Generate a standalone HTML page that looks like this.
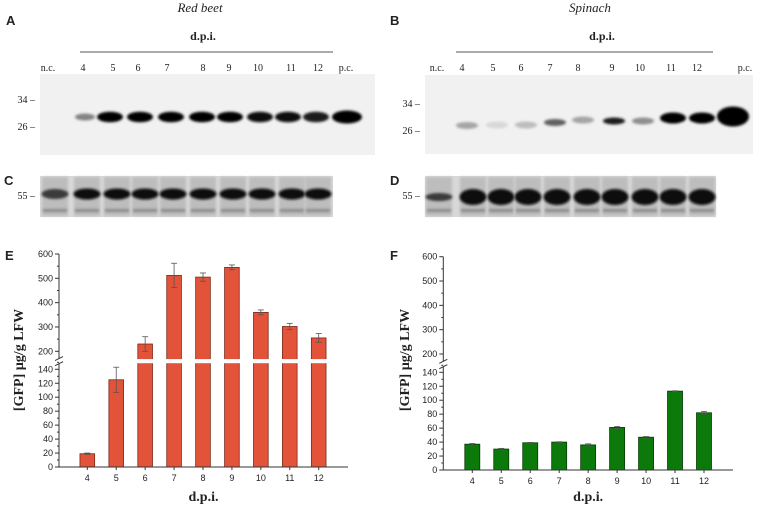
<!DOCTYPE html>
<html><head><meta charset="utf-8"><style>
body{margin:0;background:#fff;}
svg{display:block;font-family:"Liberation Sans",sans-serif;}
.serif{font-family:"Liberation Serif",serif;}
</style></head><body>
<svg id="fig" width="760" height="505" viewBox="0 0 760 505">
<defs>
<filter id="blur1" x="-50%" y="-100%" width="200%" height="300%"><feGaussianBlur stdDeviation="1.3"/></filter>
</defs>
<g id="blots"></g>
<g id="chartE"></g>
<g id="chartF"></g>
</svg>
<script>
// ----- chart data -----
const categories = ["4","5","6","7","8","9","10","11","12"];
const redBeetValues = [19,125,230,512,505,545,360,302,255];
const redBeetErrors = [1,18,30,50,17,10,10,13,18];
const spinachValues = [37,30,39,40,36,61,47,113,82];
const spinachErrors = [1,1,0.5,0.5,1.5,1.5,1,0.5,2];
const lowerTicks = [0,20,40,60,80,100,120,140];
const upperTicks = [200,300,400,500,600];
// blot lane data
const laneLabelsA = ["n.c.","4","5","6","7","8","9","10","11","12","p.c."];
const bandIntensityA = [0,0.45,1,1,1,1,1,0.95,0.95,0.9,1];
const laneLabelsB = ["n.c.","4","5","6","7","8","9","10","11","12","p.c."];
const bandIntensityB = [0,0.3,0.08,0.2,0.6,0.3,0.9,0.4,1,1,1];

const NS="http://www.w3.org/2000/svg";
function mk(tag,attrs,parent,text){const e=document.createElementNS(NS,tag);for(const k in attrs)e.setAttribute(k,attrs[k]);if(text!==undefined)e.textContent=text;parent.appendChild(e);return e;}

// ---------- blots ----------
const B=document.getElementById('blots');
function txt(x,y,s,opts,name){const t=mk('text',Object.assign({x:x,y:y,'font-size':11,fill:'#222'},opts||{}),B,s);return t;}
txt(6,25,"A",{'font-weight':'bold','font-size':13},'panel-a-letter');
txt(390,25,"B",{'font-weight':'bold','font-size':13},'panel-b-letter');
txt(200,12,"Red beet",{'font-style':'italic','class':'serif','text-anchor':'middle','font-size':13},'red-beet-title');
txt(590,12,"Spinach",{'font-style':'italic','class':'serif','text-anchor':'middle','font-size':13},'spinach-title');
txt(203,40,"d.p.i.",{'font-weight':'bold','class':'serif','text-anchor':'middle','font-size':12},'dpi-label-a');
txt(602,40,"d.p.i.",{'font-weight':'bold','class':'serif','text-anchor':'middle','font-size':12},'dpi-label-b');
let l=mk('line',{x1:80,y1:52,x2:333,y2:52,stroke:'#777','stroke-width':1.3},B);
l=mk('line',{x1:456,y1:52,x2:713,y2:52,stroke:'#777','stroke-width':1.3},B);
const labelXA=[48,83,113,138,167,203,229,258,291,318,346];
const labelXB=[437,462,493,521,550,578,612,640,671,697,745];
laneLabelsA.forEach((s,i)=>txt(labelXA[i],71,s,{'class':'serif','text-anchor':'middle','font-size':10},'lane-label-a'));
laneLabelsB.forEach((s,i)=>txt(labelXB[i],71,s,{'class':'serif','text-anchor':'middle','font-size':10},'lane-label-b'));
let r=mk('rect',{x:40,y:74,width:335,height:81,fill:'#f1f1f1'},B);
const bandXA=[55,85,110,140,171,202,230,260,288,316,347];
bandIntensityA.forEach((v,i)=>{if(v<=0)return;const g=Math.round(235-232*v);
 const e=mk('ellipse',{cx:bandXA[i],cy:117,rx:i==10?15:(i==1?10:13),ry:i==10?6.5:(i==1?3.5:5.3),fill:`rgb(${g},${g},${g})`,filter:'url(#blur1)'},B);
 });
txt(35,103,"34 –",{'class':'serif','text-anchor':'end','font-size':10},'marker-34-a');
txt(35,130,"26 –",{'class':'serif','text-anchor':'end','font-size':10},'marker-26-a');
r=mk('rect',{x:425,y:75,width:328,height:79,fill:'#f1f1f1'},B);
const bandXB=[440,467,497,526,555,583,614,643,673,702,733];
const bandYB=[125,125.5,125,125,122.5,120,121,121,118,118,116.5];
bandIntensityB.forEach((v,i)=>{if(v<=0)return;const g=Math.round(235-232*v);
 const e=mk('ellipse',{cx:bandXB[i],cy:bandYB[i],rx:i==10?16:(i>=8?13:11),ry:i==10?10:(i>=8?5.5:3.5),fill:`rgb(${g},${g},${g})`,filter:'url(#blur1)'},B);
 });
txt(420,107,"34 –",{'class':'serif','text-anchor':'end','font-size':10},'marker-34-b');
txt(420,134,"26 –",{'class':'serif','text-anchor':'end','font-size':10},'marker-26-b');
txt(4,185,"C",{'font-weight':'bold','font-size':13},'panel-c-letter');
txt(390,185,"D",{'font-weight':'bold','font-size':13},'panel-d-letter');
txt(35,199,"55 –",{'class':'serif','text-anchor':'end','font-size':10},'marker-55-c');
txt(420,199,"55 –",{'class':'serif','text-anchor':'end','font-size':10},'marker-55-d');
function gel(x0,w,lanes,bandY,bandH,first,name){
 const rr=mk('rect',{x:x0,y:176,width:w,height:41,fill:'#d8d8d8'},B);
 lanes.forEach((cx,i)=>{
  const ln=mk('rect',{x:cx-13,y:177,width:26,height:39,fill:'#bdbdbd',filter:'url(#blur1)'},B);
  const h=(i==0?first:bandH);
  const e=mk('ellipse',{cx:cx,cy:bandY,rx:13.5,ry:h,fill:i==0&&first<bandH?'#3a3a3a':'#0c0c0c',filter:'url(#blur1)'},B);
  const m=mk('rect',{x:cx-12,y:209,width:24,height:3,fill:'#8a8a8a',filter:'url(#blur1)'},B);
 });
}
gel(40,293,[55,87,117,145,173,203,233,262,292,318],194,5.5,5,'gel-c');
gel(425,291,[439,473,501,528,557,587,615,645,673,702],197,8,4,'gel-d');

// ---------- bar charts ----------
function chart(gid,o,vals,errs,fill,stroke,letter){
 const G=document.getElementById(gid);
 const ly=v=>o.y0-v*(o.y0-o.y140)/140;
 const uy=v=>o.y200-(v-200)*(o.y200-o.y600)/400;
 const yv=v=>v<=150?ly(v):uy(v);
 const xc=i=>o.x4+i*(o.x12-o.x4)/8;
 const add=(tag,a,name,t)=>{const e=mk(tag,a,G,t);return e;};
 const gapTop=uy(170), gapBot=ly(148);
 vals.forEach((v,i)=>{
  const x=xc(i)-o.bw/2, top=yv(v);
  add('rect',{x:x,y:top,width:o.bw,height:o.y0-top,fill:fill,stroke:stroke,'stroke-width':0.8},'bar-'+categories[i]);
  if(v>150) add('rect',{x:x-1,y:gapTop+0.5,width:o.bw+2,height:gapBot-gapTop-1,fill:'#fff'},'axis-break-gap');
  const e=errs[i];
  add('line',{x1:xc(i),x2:xc(i),y1:yv(v+e),y2:yv(Math.max(0,v-e)),stroke:'#555','stroke-width':0.8},'error-bar');
  add('line',{x1:xc(i)-3,x2:xc(i)+3,y1:yv(v+e),y2:yv(v+e),stroke:'#555','stroke-width':0.8},'error-cap');
  add('line',{x1:xc(i)-3,x2:xc(i)+3,y1:yv(Math.max(0,v-e)),y2:yv(Math.max(0,v-e)),stroke:'#555','stroke-width':0.8},'error-cap');
  add('text',{x:xc(i),y:o.y0+14,'font-size':9,'text-anchor':'middle',fill:'#222'},'x-tick-label',categories[i]);
  add('line',{x1:xc(i),x2:xc(i),y1:o.y0,y2:o.y0+3,stroke:'#333'},'x-tick');
 });
 add('line',{x1:o.x0,y1:o.y0,x2:o.xr,y2:o.y0,stroke:'#333','stroke-width':1},'x-axis');
 add('line',{x1:o.x0,y1:o.y0,x2:o.x0,y2:gapBot,stroke:'#333','stroke-width':1},'y-axis-lower');
 add('line',{x1:o.x0,y1:gapTop,x2:o.x0,y2:o.y600,stroke:'#333','stroke-width':1},'y-axis-upper');
 add('line',{x1:o.x0-4,y1:gapBot+2,x2:o.x0+4,y2:gapBot-2,stroke:'#333'},'axis-break-mark');
 add('line',{x1:o.x0-4,y1:gapTop+2,x2:o.x0+4,y2:gapTop-2,stroke:'#333'},'axis-break-mark');
 lowerTicks.forEach(t=>{add('line',{x1:o.x0-4,x2:o.x0,y1:ly(t),y2:ly(t),stroke:'#333'},'y-tick');
  add('line',{x1:o.x0-2,x2:o.x0,y1:ly(t+10),y2:ly(t+10),stroke:'#333'},'y-minor-tick');
  add('text',{x:o.x0-6,y:ly(t)+3,'font-size':9,'text-anchor':'end',fill:'#222'},'y-tick-label',t);});
 upperTicks.forEach(t=>{add('line',{x1:o.x0-4,x2:o.x0,y1:uy(t),y2:uy(t),stroke:'#333'},'y-tick');
  if(t<600)add('line',{x1:o.x0-2,x2:o.x0,y1:uy(t+50),y2:uy(t+50),stroke:'#333'},'y-minor-tick');
  add('text',{x:o.x0-6,y:uy(t)+3,'font-size':9,'text-anchor':'end',fill:'#222'},'y-tick-label',t);});
 add('text',{x:(o.x0+o.xr)/2,y:501,'font-size':14,'font-weight':'bold','text-anchor':'middle','class':'serif',fill:'#222'},'x-axis-title','d.p.i.');
 add('text',{x:o.tx,y:360,'font-size':14,'font-weight':'bold','text-anchor':'middle','class':'serif',fill:'#222',transform:`rotate(-90 ${o.tx} 360)`},'y-axis-title','[GFP] µg/g LFW');
 add('text',{x:o.lx,y:260,'font-size':13,'font-weight':'bold',fill:'#222'},'panel-letter',letter);
}
chart('chartE',{x0:59,xr:348,y0:467,y140:369.3,y200:351.3,y600:254,x4:87.3,x12:318.7,bw:14.7,tx:23,lx:5},redBeetValues,redBeetErrors,'#e2533a','#7a2a1c','E');
chart('chartF',{x0:443.3,xr:733,y0:470,y140:372.3,y200:354,y600:256.7,x4:472.3,x12:704,bw:15,tx:409,lx:390},spinachValues,spinachErrors,'#0b7a0b','#053d05','F');
</script>
</body></html>
